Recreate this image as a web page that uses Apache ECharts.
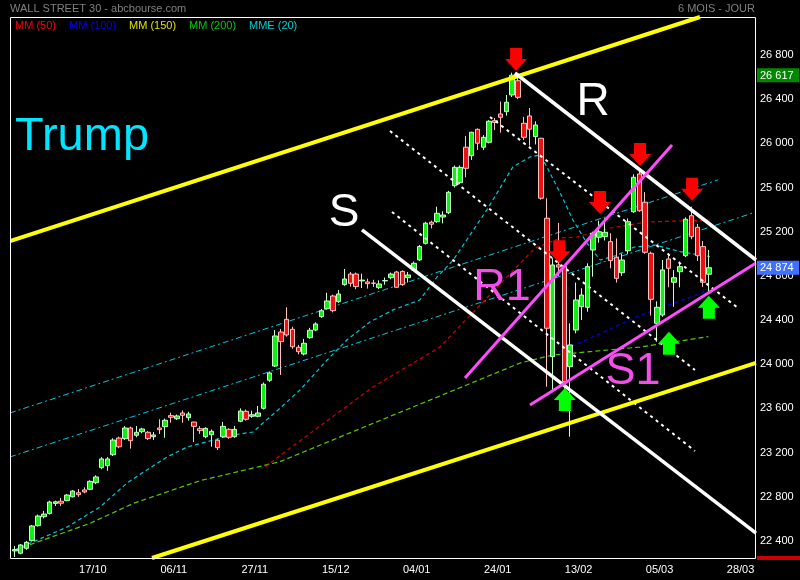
<!DOCTYPE html>
<html><head><meta charset="utf-8">
<script src="https://cdn.jsdelivr.net/npm/echarts@6/dist/echarts.min.js"></script>
<style>html,body{margin:0;padding:0;background:#000}#c{width:800px;height:580px}</style>
</head><body><div id="c"></div>
<script>
// ---- categories (trading days, then future slots) ----
const dates = [
 '27/09','28/09','29/09',
 '02/10','03/10','04/10','05/10','06/10','09/10','10/10','11/10','12/10','13/10','16/10','17/10','18/10','19/10','20/10','23/10','24/10','25/10','26/10','27/10','30/10','31/10',
 '01/11','02/11','03/11','06/11','07/11','08/11','09/11','10/11','13/11','14/11','15/11','16/11','17/11','20/11','21/11','22/11','24/11','27/11','28/11','29/11','30/11',
 '01/12','04/12','05/12','06/12','07/12','08/12','11/12','12/12','13/12','14/12','15/12','18/12','19/12','20/12','21/12','22/12','25/12','26/12','27/12','28/12','29/12',
 '01/01','02/01','03/01','04/01','05/01','08/01','09/01','10/01','11/01','12/01','15/01','16/01','17/01','18/01','19/01','22/01','23/01','24/01','25/01','26/01','29/01','30/01','31/01',
 '01/02','02/02','05/02','06/02','07/02','08/02','09/02','12/02','13/02','14/02','15/02','16/02','19/02','20/02','21/02','22/02','23/02','26/02','27/02','28/02',
 '01/03','02/03','05/03','06/03','07/03','08/03','09/03','12/03','13/03','14/03','15/03',
 '16/03','19/03','20/03','21/03','22/03','23/03','26/03','27/03'
];
const tickIdx = [14,28,42,56,70,84,98,112,126];
const tickLabels = ['17/10','06/11','27/11','15/12','04/01','24/01','13/02','05/03','28/03'];
const yTicks = [22400,22800,23200,23600,24000,24400,24800,25200,25600,26000,26400,26800];
const priceTags = [26617, 24874];

// ---- candles: [open, close, low, high] ----
const ohlc = [
[22310,22322,22255,22355],[22289,22364,22280,22373],[22334,22388,22320,22400],[22403,22536,22395,22545],
[22539,22626,22530,22640],[22620,22644,22605,22672],[22650,22753,22640,22765],[22740,22755,22717,22765],
[22760,22742,22717,22790],[22765,22816,22760,22825],[22800,22852,22795,22860],[22837,22819,22800,22870],
[22862,22844,22832,22886],[22868,22940,22860,22950],[22928,22980,22915,22995],[23064,23143,23050,23160],
[23082,23143,23036,23160],[23181,23314,23170,23330],[23332,23253,23240,23345],[23326,23423,23315,23440],
[23423,23308,23236,23435],[23357,23384,23339,23441],[23390,23414,23375,23425],[23384,23327,23315,23395],
[23344,23360,23315,23387],[23423,23408,23369,23502],[23435,23493,23335,23508],[23535,23520,23471,23562],
[23507,23532,23495,23545],[23559,23538,23471,23583],[23516,23550,23490,23570],[23477,23438,23296,23480],
[23417,23399,23370,23440],[23344,23420,23330,23430],[23362,23393,23254,23410],[23312,23245,23224,23326],
[23344,23438,23335,23478],[23411,23339,23325,23420],[23344,23411,23335,23441],[23484,23577,23475,23601],
[23574,23502,23490,23590],[23529,23543,23515,23580],[23529,23559,23520,23622],[23601,23819,23590,23835],
[23855,23921,23840,23935],[23984,24256,23975,24310],[24292,24205,23903,24320],[24407,24265,24250,24516],
[24317,24159,24140,24340],[24154,24114,24090,24175],[24093,24190,24080,24230],[24241,24308,24230,24330],
[24310,24365,24300,24380],[24431,24485,24420,24500],[24503,24573,24495,24648],[24618,24485,24470,24630],
[24567,24636,24555,24672],[24721,24772,24710,24863],[24817,24733,24703,24835],[24817,24703,24680,24830],
[24755,24762,24690,24820],[24745,24730,24685,24775],[24735,24733,24700,24765],[24694,24727,24680,24760],
[24755,24758,24720,24785],[24784,24817,24770,24830],[24835,24697,24690,24845],[24841,24721,24710,24850],
[24784,24808,24740,24835],[24853,24914,24845,24930],[24945,25066,24935,25080],[25095,25277,25085,25290],
[25286,25268,25230,25300],[25291,25367,25280,25427],[25333,25351,25275,25385],[25372,25557,25360,25570],
[25617,25783,25600,25800],[25644,25783,25630,25800],[25965,25774,25693,26067],[25888,26100,25850,26105],
[26127,26001,25940,26135],[25965,26055,25940,26075],[26010,26200,26000,26210],[26205,26190,26120,26230],
[26266,26236,26097,26378],[26287,26372,26251,26438],[26438,26617,26420,26640],[26567,26417,26400,26600],
[26182,26055,26030,26240],[26248,26128,25980,26320],[26061,26166,25990,26200],[26046,25503,25490,26050],
[25322,24326,23797,25503],[24069,24899,23767,24960],[24900,24880,24800,25280],[24884,23842,23737,24900],
[23978,24175,23344,24371],[24310,24582,24280,24740],[24521,24627,24401,24688],[24516,24884,24476,24914],
[25035,25186,24793,25200],[25150,25200,25100,25300],[25155,25195,25120,25322],[25110,24938,24869,25186],
[24969,24778,24740,25140],[24829,24944,24800,25000],[25028,25291,25000,25320],[25381,25693,25370,25720],
[25723,25390,25380,25759],[25467,25014,25000,25560],[25005,24588,24440,25020],[24371,24516,24204,24570],
[24446,24854,24430,24944],[24953,24869,24697,25005],[24742,24784,24521,24853],[24838,24884,24697,24929],
[24983,25313,24970,25330],[25345,25155,25132,25427],[25240,24983,24935,25270],[25065,24742,24700,25116],
[24815,24874,24657,25035]
];

// ---- moving averages: [bar index, price] ----
const mme20 = [[0,22318],[3.1,22391],[9,22526],[14.7,22707],[19.4,22925],[22.8,23043],[26.3,23160],[29.8,23251],
 [34.3,23314],[37.7,23360],[41.2,23387],[42.9,23468],[45.5,23586],[49.3,23767],[54,24039],[57.4,24220],[61.4,24383],
 [65.4,24492],[70,24582],[73,24790],[75.8,24944],[81.6,25397],[86.1,25786],[89.1,25877],[90.8,25895],[92,25786],
 [94.3,25551],[96.5,25306],[98.9,25098],[101.2,24944],[104,24985],[107,25060],[110.7,25080],[115,25020],[120.2,24975]];
const mm50 = [[43.3,23070],[45.5,23160],[61.9,23794],[73.5,24156],[87.9,24944],[90,25053],[94.3,25143],[97.2,25152],
 [103,25234],[109.3,25288],[120.2,25306]];
const mm100 = [[92.9,24084],[99.5,24238],[108,24440],[120.2,24673]];
const mm200 = [[0,22318],[13,22560],[20.5,22741],[32,22946],[45.8,23118],[87.4,24012],[93,24084],[99.5,24114],
 [108.1,24156],[119.9,24250]];

// ---- drawn trend lines: [bar index, price] end points ----
const chanTop = [[-0.85,25116],[118.47,27144]];
const chanBottom = [[23.71,22246],[128.15,24012]];
const lineR = [[86.48,26637],[128.15,24944]];
const lineS = [[60.02,25216],[128.15,22472]];
const dashA = [[82.16,26239],[125.04,24510]];
const dashB = [[64.86,26112],[117.6,23948]];
const dashC = [[65.21,25379],[117.6,23215]];
const lineR1 = [[77.83,23876],[113.63,25985]];
const lineS1 = [[89.07,23631],[128.15,24917]];
const cyanTop = [[-0.85,23559],[121.58,25669]];
const cyanBottom = [[-0.85,23161],[128.15,25379]];

// ---- arrow tips ----
const redArrows = [[86.67,26655],[94.14,24914],[101.18,25361],[108.1,25795],[117.1,25481]];
const greenArrows = [[95.1,23785],[113.1,24295],[120.0,24621]];

const fmt = v => String(v).replace(/\B(?=(\d{3})+(?!\d))/g, ' ');
const FONT = 'Liberation Sans, Arial, sans-serif';

function seg(data, color, width, type, z) {
  return {type:'line', xAxisIndex:1, yAxisIndex:0, data:data, symbol:'none', silent:true, clip:false,
    lineStyle:{color:color, width:width, type:type}, z:z};
}

const chart = echarts.init(document.getElementById('c'), null, {renderer:'canvas'});
chart.setOption({
  backgroundColor:'#000',
  animation:false,
  textStyle:{fontFamily:FONT},
  grid:{left:12, top:17, width:746, height:542, show:false, containLabel:false, outerBoundsMode:'none'},
  xAxis:[
    {type:'category', data:dates, boundaryGap:true,
      axisLine:{show:false}, axisTick:{show:false}, splitLine:{show:false},
      axisLabel:{color:'#fff', fontSize:11, margin:5, padding:[0,6,0,0],
        interval:(i)=>tickIdx.indexOf(i)>=0,
        formatter:(v,i)=>{const j=tickIdx.indexOf(i); return j>=0?tickLabels[j]:'';}}},
    {type:'value', min:-0.5, max:128.5, show:false}
  ],
  yAxis:[
    {type:'value', position:'right', min:22237, max:27144, scale:true,
      axisLine:{show:false}, axisTick:{show:false}, splitLine:{show:false},
      axisLabel:{customValues:yTicks, color:'#fff', fontSize:11, margin:2, formatter:fmt}},
    {type:'value', position:'right', min:22237, max:27144, z:10,
      axisLine:{show:false}, axisTick:{show:false}, splitLine:{show:false},
      axisLabel:{customValues:priceTags, margin:-1, fontSize:11,
        formatter:v=>(v===priceTags[0]?'{g|':'{b|')+fmt(v)+'}',
        rich:{g:{backgroundColor:'#008800', color:'#fff', fontSize:11, padding:[2,3,1,3], width:36},
              b:{backgroundColor:'#4070ff', color:'#fff', fontSize:11, padding:[2,3,1,3], width:36}}}}
  ],
  series:[
    seg(cyanTop, '#00c8d8', 1, [6,3,2,3], 2),
    seg(cyanBottom, '#00c8d8', 1, [6,3,2,3], 2),
    seg(mm200, '#55cc00', 1.2, [5,3], 2),
    seg(mm100, '#0000e0', 1.2, [4,3], 2),
    seg(mm50, '#cc0000', 1.2, [4,3], 2),
    seg(mme20, '#00c8d8', 1.2, [4,3], 2),
    {type:'candlestick', xAxisIndex:0, yAxisIndex:0, data:ohlc, barWidth:5, z:3, silent:true,
      itemStyle:{color:'#11ee11', color0:'#ee1111', borderColor:'#c8ffc8', borderColor0:'#ffc0c0', borderColorDoji:'#ffffff', borderWidth:1}},
    seg(dashA, '#ffffff', 2, [3,4], 4),
    seg(dashB, '#ffffff', 2, [3,4], 4),
    seg(dashC, '#ffffff', 2, [3,4], 4),
    seg(chanTop, '#ffff00', 4, 'solid', 4),
    seg(chanBottom, '#ffff00', 4, 'solid', 4),
    seg(lineR, '#ffffff', 3.5, 'solid', 4),
    seg(lineS, '#ffffff', 3.5, 'solid', 4),
    seg(lineR1, '#ff4cff', 3, 'solid', 4),
    seg(lineS1, '#ff4cff', 3, 'solid', 4),
    {type:'scatter', xAxisIndex:1, yAxisIndex:0, data:redArrows, silent:true, z:6,
      symbol:'path://M5,0 L17,0 L17,11 L22,11 L11,23 L0,11 L5,11 Z', symbolSize:[22,23], symbolOffset:[0,-11.5],
      itemStyle:{color:'#ff0000', opacity:1}},
    {type:'scatter', xAxisIndex:1, yAxisIndex:0, data:greenArrows, silent:true, z:6,
      symbol:'path://M11,0 L22,12 L17,12 L17,23 L5,23 L5,12 L0,12 Z', symbolSize:[22,23], symbolOffset:[0,11.5],
      itemStyle:{color:'#00ff00', opacity:1}}
  ],
  graphic:[
    {type:'rect', shape:{x:10.5, y:17.5, width:745, height:541}, style:{fill:null, stroke:'#ffffff', lineWidth:1}, z:50, silent:true},
    {type:'rect', shape:{x:757, y:556, width:43, height:4}, style:{fill:'#cc0000'}, z:50, silent:true},
    {type:'text', left:10, top:3, style:{text:'WALL STREET 30 - abcbourse.com', fill:'#808080', font:'11px '+FONT}, z:50},
    {type:'text', right:45, top:3, style:{text:'6 MOIS - JOUR', fill:'#808080', font:'11px '+FONT}, z:50},
    {type:'text', left:15, top:20, style:{text:'MM (50)', fill:'#ff0000', font:'11px '+FONT}, z:50},
    {type:'text', left:69, top:20, style:{text:'MM (100)', fill:'#0000ff', font:'11px '+FONT}, z:50},
    {type:'text', left:129, top:20, style:{text:'MM (150)', fill:'#e0e000', font:'11px '+FONT}, z:50},
    {type:'text', left:189, top:20, style:{text:'MM (200)', fill:'#00cc00', font:'11px '+FONT}, z:50},
    {type:'text', left:249, top:20, style:{text:'MME (20)', fill:'#00cccc', font:'11px '+FONT}, z:50},
    {type:'text', x:15, y:137, style:{text:'Trump', fill:'#00e5ff', font:'47px '+FONT, verticalAlign:'middle', align:'left'}, z:50},
    {type:'text', x:593, y:102, style:{text:'R', fill:'#ffffff', font:'46px '+FONT, verticalAlign:'middle', align:'center'}, z:50},
    {type:'text', x:344, y:213, style:{text:'S', fill:'#ffffff', font:'46px '+FONT, verticalAlign:'middle', align:'center'}, z:50},
    {type:'text', x:502, y:288, style:{text:'R1', fill:'#f050e8', font:'45px '+FONT, verticalAlign:'middle', align:'center'}, z:50},
    {type:'text', x:633, y:372, style:{text:'S1', fill:'#f050e8', font:'45px '+FONT, verticalAlign:'middle', align:'center'}, z:50}
  ]
});
</script></body></html>
